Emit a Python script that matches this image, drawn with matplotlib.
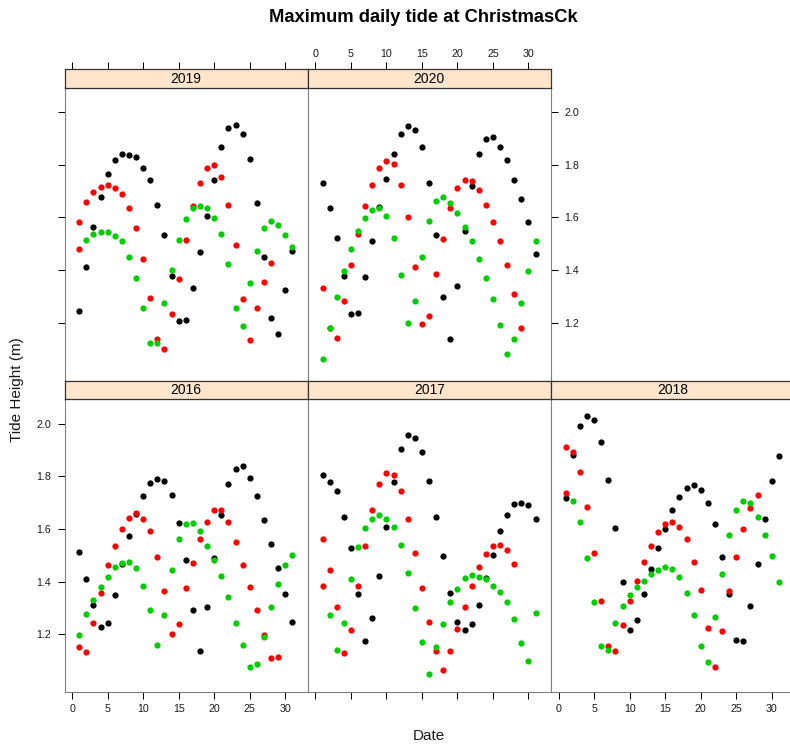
import numpy as np
import matplotlib
matplotlib.use('Agg')
import matplotlib.pyplot as plt

plt.rcParams['font.family'] = ['Liberation Sans', 'DejaVu Sans']

# ------------------------------------------------------------------ data
# maximum daily tide height (m) by day of month, one list per month
jan_2016 = [1.512, 1.411, 1.313, 1.227, 1.244, 1.350, 1.467, 1.573, 1.656, 1.726, 1.773,
            1.790, 1.783, 1.730, 1.624, 1.483, 1.291, 1.137, 1.303, 1.490, 1.653, 1.769,
            1.826, 1.837, 1.793, 1.726, 1.634, 1.544, 1.451, 1.354, 1.248]
feb_2016 = [1.152, 1.133, 1.244, 1.357, 1.462, 1.537, 1.601, 1.642, 1.660, 1.638, 1.591,
            1.493, 1.364, 1.201, 1.238, 1.375, 1.472, 1.562, 1.627, 1.670, 1.670, 1.627,
            1.552, 1.462, 1.379, 1.291, 1.197, 1.109, 1.115]
mar_2016 = [1.199, 1.277, 1.331, 1.379, 1.418, 1.455, 1.472, 1.476, 1.451, 1.385, 1.293,
            1.159, 1.274, 1.444, 1.562, 1.620, 1.624, 1.591, 1.537, 1.483, 1.422, 1.340,
            1.244, 1.159, 1.076, 1.087, 1.191, 1.303, 1.389, 1.462, 1.501]

jan_2017 = [1.804, 1.779, 1.742, 1.646, 1.526, 1.352, 1.173, 1.260, 1.422, 1.609, 1.779,
            1.902, 1.956, 1.945, 1.891, 1.783, 1.646, 1.497, 1.357, 1.246, 1.217, 1.238,
            1.313, 1.412, 1.501, 1.591, 1.653, 1.693, 1.700, 1.689, 1.638]
feb_2017 = [1.563, 1.444, 1.303, 1.130, 1.215, 1.382, 1.537, 1.670, 1.769, 1.811, 1.803,
            1.742, 1.638, 1.509, 1.375, 1.248, 1.137, 1.064, 1.137, 1.220, 1.303, 1.382,
            1.454, 1.505, 1.537, 1.540, 1.519, 1.468]
mar_2017 = [1.385, 1.274, 1.139, 1.244, 1.411, 1.533, 1.605, 1.638, 1.653, 1.638, 1.609,
            1.540, 1.432, 1.299, 1.170, 1.050, 1.150, 1.238, 1.321, 1.371, 1.415, 1.425,
            1.418, 1.408, 1.385, 1.360, 1.321, 1.258, 1.166, 1.097, 1.280]

jan_2018 = [1.718, 1.882, 1.989, 2.028, 2.014, 1.930, 1.785, 1.605, 1.397, 1.215, 1.256,
            1.352, 1.448, 1.526, 1.601, 1.671, 1.722, 1.757, 1.765, 1.749, 1.700, 1.617,
            1.493, 1.352, 1.177, 1.173, 1.307, 1.465, 1.638, 1.783, 1.877]
feb_2018 = [1.912, 1.891, 1.815, 1.685, 1.509, 1.328, 1.156, 1.137, 1.234, 1.328, 1.404,
            1.476, 1.537, 1.589, 1.617, 1.628, 1.606, 1.562, 1.476, 1.368, 1.224, 1.076,
            1.211, 1.366, 1.493, 1.599, 1.681, 1.730]
mar_2018 = [1.738, 1.707, 1.628, 1.491, 1.324, 1.156, 1.139, 1.242, 1.307, 1.349, 1.378,
            1.404, 1.429, 1.444, 1.455, 1.448, 1.418, 1.357, 1.274, 1.156, 1.095, 1.266,
            1.429, 1.577, 1.671, 1.707, 1.697, 1.646, 1.577, 1.498, 1.397]

jan_2019 = [1.244, 1.412, 1.562, 1.679, 1.763, 1.816, 1.841, 1.837, 1.831, 1.789, 1.742,
            1.646, 1.534, 1.379, 1.205, 1.209, 1.332, 1.469, 1.606, 1.742, 1.867, 1.939,
            1.949, 1.916, 1.820, 1.653, 1.448, 1.217, 1.159, 1.324, 1.473]
feb_2019 = [1.581, 1.657, 1.698, 1.714, 1.722, 1.710, 1.689, 1.634, 1.559, 1.441, 1.293,
            1.137, 1.101, 1.232, 1.368, 1.516, 1.643, 1.732, 1.787, 1.797, 1.754, 1.646,
            1.495, 1.291, 1.133, 1.256, 1.354, 1.426]
mar_2019 = [1.481, 1.516, 1.537, 1.545, 1.545, 1.530, 1.509, 1.451, 1.371, 1.256, 1.124,
            1.124, 1.275, 1.401, 1.516, 1.595, 1.636, 1.642, 1.636, 1.599, 1.538, 1.422,
            1.256, 1.187, 1.350, 1.473, 1.559, 1.586, 1.571, 1.534, 1.487]

jan_2020 = [1.730, 1.634, 1.520, 1.378, 1.232, 1.238, 1.375, 1.512, 1.641, 1.746, 1.841,
            1.916, 1.945, 1.930, 1.869, 1.732, 1.533, 1.299, 1.137, 1.340, 1.549, 1.721,
            1.841, 1.898, 1.905, 1.867, 1.818, 1.742, 1.671, 1.581, 1.462]
feb_2020 = [1.332, 1.180, 1.144, 1.281, 1.418, 1.537, 1.642, 1.724, 1.787, 1.815, 1.801,
            1.724, 1.603, 1.411, 1.195, 1.227, 1.385, 1.519, 1.634, 1.710, 1.743, 1.738,
            1.703, 1.648, 1.581, 1.512, 1.418, 1.310, 1.180]
mar_2020 = [1.064, 1.180, 1.297, 1.397, 1.481, 1.549, 1.599, 1.628, 1.636, 1.606, 1.523,
            1.382, 1.199, 1.281, 1.450, 1.587, 1.663, 1.679, 1.653, 1.617, 1.562, 1.509,
            1.444, 1.371, 1.291, 1.191, 1.083, 1.137, 1.277, 1.397, 1.512]

tide = {
    2016: (jan_2016, feb_2016, mar_2016),
    2017: (jan_2017, feb_2017, mar_2017),
    2018: (jan_2018, feb_2018, mar_2018),
    2019: (jan_2019, feb_2019, mar_2019),
    2020: (jan_2020, feb_2020, mar_2020),
}
# in non-leap years the 1 March value is grouped with February in the source
mar1_in_feb = [2017, 2018, 2019]

month_cols = ['black', '#FF0000', '#00CD00']
x_ticks = [0, 5, 10, 15, 20, 25, 30]
y_ticks = [1.2, 1.4, 1.6, 1.8, 2.0]

# ------------------------------------------------------------------ layout
W, H = 790, 747
fig = plt.figure(figsize=(W / 100, H / 100), dpi=100)


def box(left, top, width, height):
    return [left / W, 1 - (top + height) / H, width / W, height / H]


col_left = [64.5, 307.75, 551.0]
col_w = 243.25
row_top = [87.5, 399.0]
panel_h = 293.0
strip_h = 18.5
xlim = (-1.08, 33.17)
ylim = (0.981, 2.093)

# year -> (row, col)
where = {2019: (0, 0), 2020: (0, 1), 2016: (1, 0), 2017: (1, 1), 2018: (1, 2)}

tick_kw = dict(direction='out', length=4.7, width=0.75, color='black',
               labelsize=7.7, labelcolor='#1a1a1a')
ms = 4.5

for year, (r, c) in where.items():
    ax = fig.add_axes(box(col_left[c], row_top[r], col_w, panel_h))
    ax.set_xlim(xlim)
    ax.set_ylim(ylim)
    for s in ax.spines.values():
        s.set_color('#808080')
        s.set_linewidth(0.8)

    months = tide[year]
    for i, vals in enumerate(months):
        days = np.arange(1, len(vals) + 1)
        vals = np.array(vals)
        if i == 2 and year in mar1_in_feb:
            days, vals = days[1:], vals[1:]
        ax.plot(days, vals, 'o', color=month_cols[i], ms=ms, mew=0)
        if i == 1 and year in mar1_in_feb:
            ax.plot([1], [months[2][0]], 'o', color=month_cols[1], ms=ms, mew=0)

    ax.set_xticks(x_ticks)
    ax.set_yticks(y_ticks)
    ax.set_yticklabels(['%.1f' % v for v in y_ticks])
    ax.tick_params(axis='x', pad=4.0, **tick_kw)
    ax.tick_params(axis='y', pad=5.0, **tick_kw)
    ax.tick_params(top=False,
                   bottom=(r == 1), labelbottom=(r == 1 and c != 1),
                   left=(c == 0), labelleft=(r == 1 and c == 0),
                   right=(r == 0 and c == 1) or (r == 1 and c == 2),
                   labelright=(r == 0 and c == 1))

    # strip with the year
    sax = fig.add_axes(box(col_left[c], row_top[r] - strip_h, col_w, strip_h))
    sax.set_facecolor('#FFE5CC')
    sax.set_xlim(xlim)
    sax.set_yticks([])
    for s in sax.spines.values():
        s.set_color('#333333')
        s.set_linewidth(0.9)
    sax.text(0.5, 0.47, str(year), transform=sax.transAxes, ha='center',
             va='center', fontsize=10, color='black')
    sax.set_xticks(x_ticks)
    sax.tick_params(axis='x', pad=2.2, **tick_kw)
    sax.tick_params(bottom=False, labelbottom=False,
                    top=(r == 0), labeltop=(r == 0 and c == 1))

fig.text(423 / W, 1 - 18 / H, 'Maximum daily tide at ChristmasCk',
         ha='center', va='center', fontsize=13.2, fontweight='bold')
fig.text(429 / W, 1 - 736 / H, 'Date', ha='center', va='center',
         fontsize=11, color='#1a1a1a')
fig.text(17 / W, 1 - 390 / H, 'Tide Height (m)', ha='center', va='center',
         rotation=90, fontsize=11, color='#1a1a1a')

plt.savefig('out.png', dpi=100)
